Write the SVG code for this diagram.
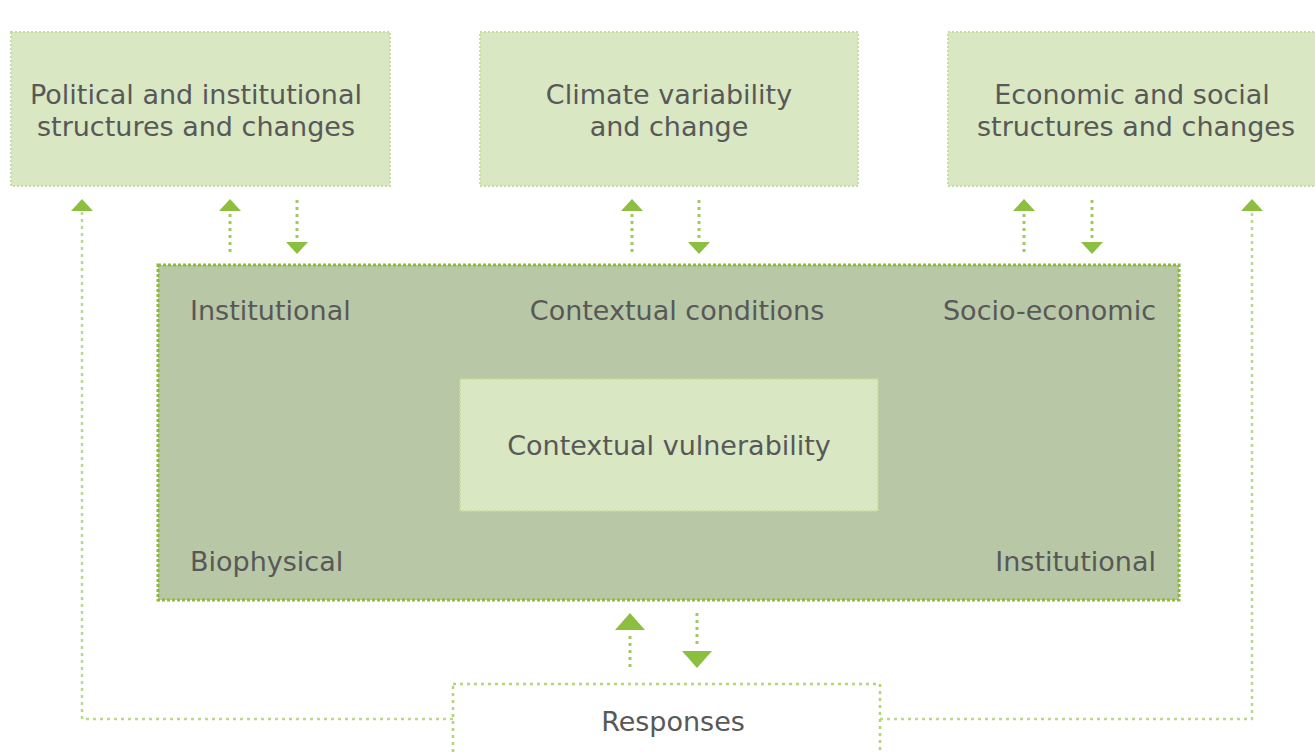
<svg xmlns="http://www.w3.org/2000/svg" width="1315" height="753" viewBox="0 0 1315 753">
<style>
.box{fill:#d9e7c3;stroke:#c6dca0;stroke-width:2;stroke-dasharray:2 2}
.main{fill:#b8c7a6;stroke:#8cba3c;stroke-width:3;stroke-dasharray:3 2}
.resp{fill:#ffffff;stroke:#b5d47a;stroke-width:2.5;stroke-dasharray:3 4}
.t{font-family:"DejaVu Sans",Verdana,sans-serif;font-size:27px;fill:#585858}
.c{text-anchor:middle}
.dl{fill:none;stroke:#a3c860;stroke-width:3;stroke-dasharray:3 4}
.fb{fill:none;stroke:#bcd88a;stroke-width:2.5;stroke-dasharray:3 4}
.ah{fill:#8cbf3f}
</style>
<rect width="1315" height="753" fill="#ffffff"/>
<g id="connectors">
<path class="fb" d="M453 719 H82 V212"/>
<path class="fb" d="M880 719 H1252 V212"/>
<line class="dl" x1="230" y1="214" x2="230" y2="256"/>
<line class="dl" x1="297" y1="200" x2="297" y2="240"/>
<line class="dl" x1="632" y1="214" x2="632" y2="256"/>
<line class="dl" x1="699" y1="200" x2="699" y2="240"/>
<line class="dl" x1="1024" y1="214" x2="1024" y2="256"/>
<line class="dl" x1="1092" y1="200" x2="1092" y2="240"/>
<line class="dl" x1="630" y1="636" x2="630" y2="668"/>
<line class="dl" x1="697" y1="613" x2="697" y2="646"/>
<polygon class="ah" points="71,211 93,211 82,199"/>
<polygon class="ah" points="1241,211 1263,211 1252,199"/>
<polygon class="ah" points="219,211 241,211 230,199"/>
<polygon class="ah" points="286,242 308,242 297,254"/>
<polygon class="ah" points="621,211 643,211 632,199"/>
<polygon class="ah" points="688,242 710,242 699,254"/>
<polygon class="ah" points="1013,211 1035,211 1024,199"/>
<polygon class="ah" points="1081,242 1103,242 1092,254"/>
<polygon class="ah" points="615,630 645,630 630,613"/>
<polygon class="ah" points="682,651 712,651 697,668"/>
</g>
<g id="political">
<rect class="box" x="11" y="32" width="379" height="154"/>
<text class="t c" x="196" y="104">Political and institutional</text>
<text class="t c" x="196" y="136">structures and changes</text>
</g>
<g id="climate">
<rect class="box" x="480" y="32" width="378" height="154"/>
<text class="t c" x="669" y="104">Climate variability</text>
<text class="t c" x="669" y="136">and change</text>
</g>
<g id="economic">
<rect class="box" x="948" y="32" width="372" height="154"/>
<text class="t c" x="1132" y="104">Economic and social</text>
<text class="t c" x="1136" y="136">structures and changes</text>
</g>
<g id="contextual-conditions">
<rect class="main" x="158" y="265" width="1021" height="335"/>
<text class="t" x="190" y="320">Institutional</text>
<text class="t c" x="677" y="320">Contextual conditions</text>
<text class="t" x="1156" y="320" text-anchor="end">Socio-economic</text>
<text class="t" x="190" y="571">Biophysical</text>
<text class="t" x="1156" y="571" text-anchor="end">Institutional</text>
</g>
<g id="contextual-vulnerability">
<rect class="box" x="460" y="379" width="418" height="132" style="stroke:#c9dc96"/>
<text class="t c" x="669" y="455">Contextual vulnerability</text>
</g>
<g id="responses">
<rect class="resp" x="453" y="684" width="427" height="90"/>
<text class="t c" x="673" y="731">Responses</text>
</g>
</svg>
